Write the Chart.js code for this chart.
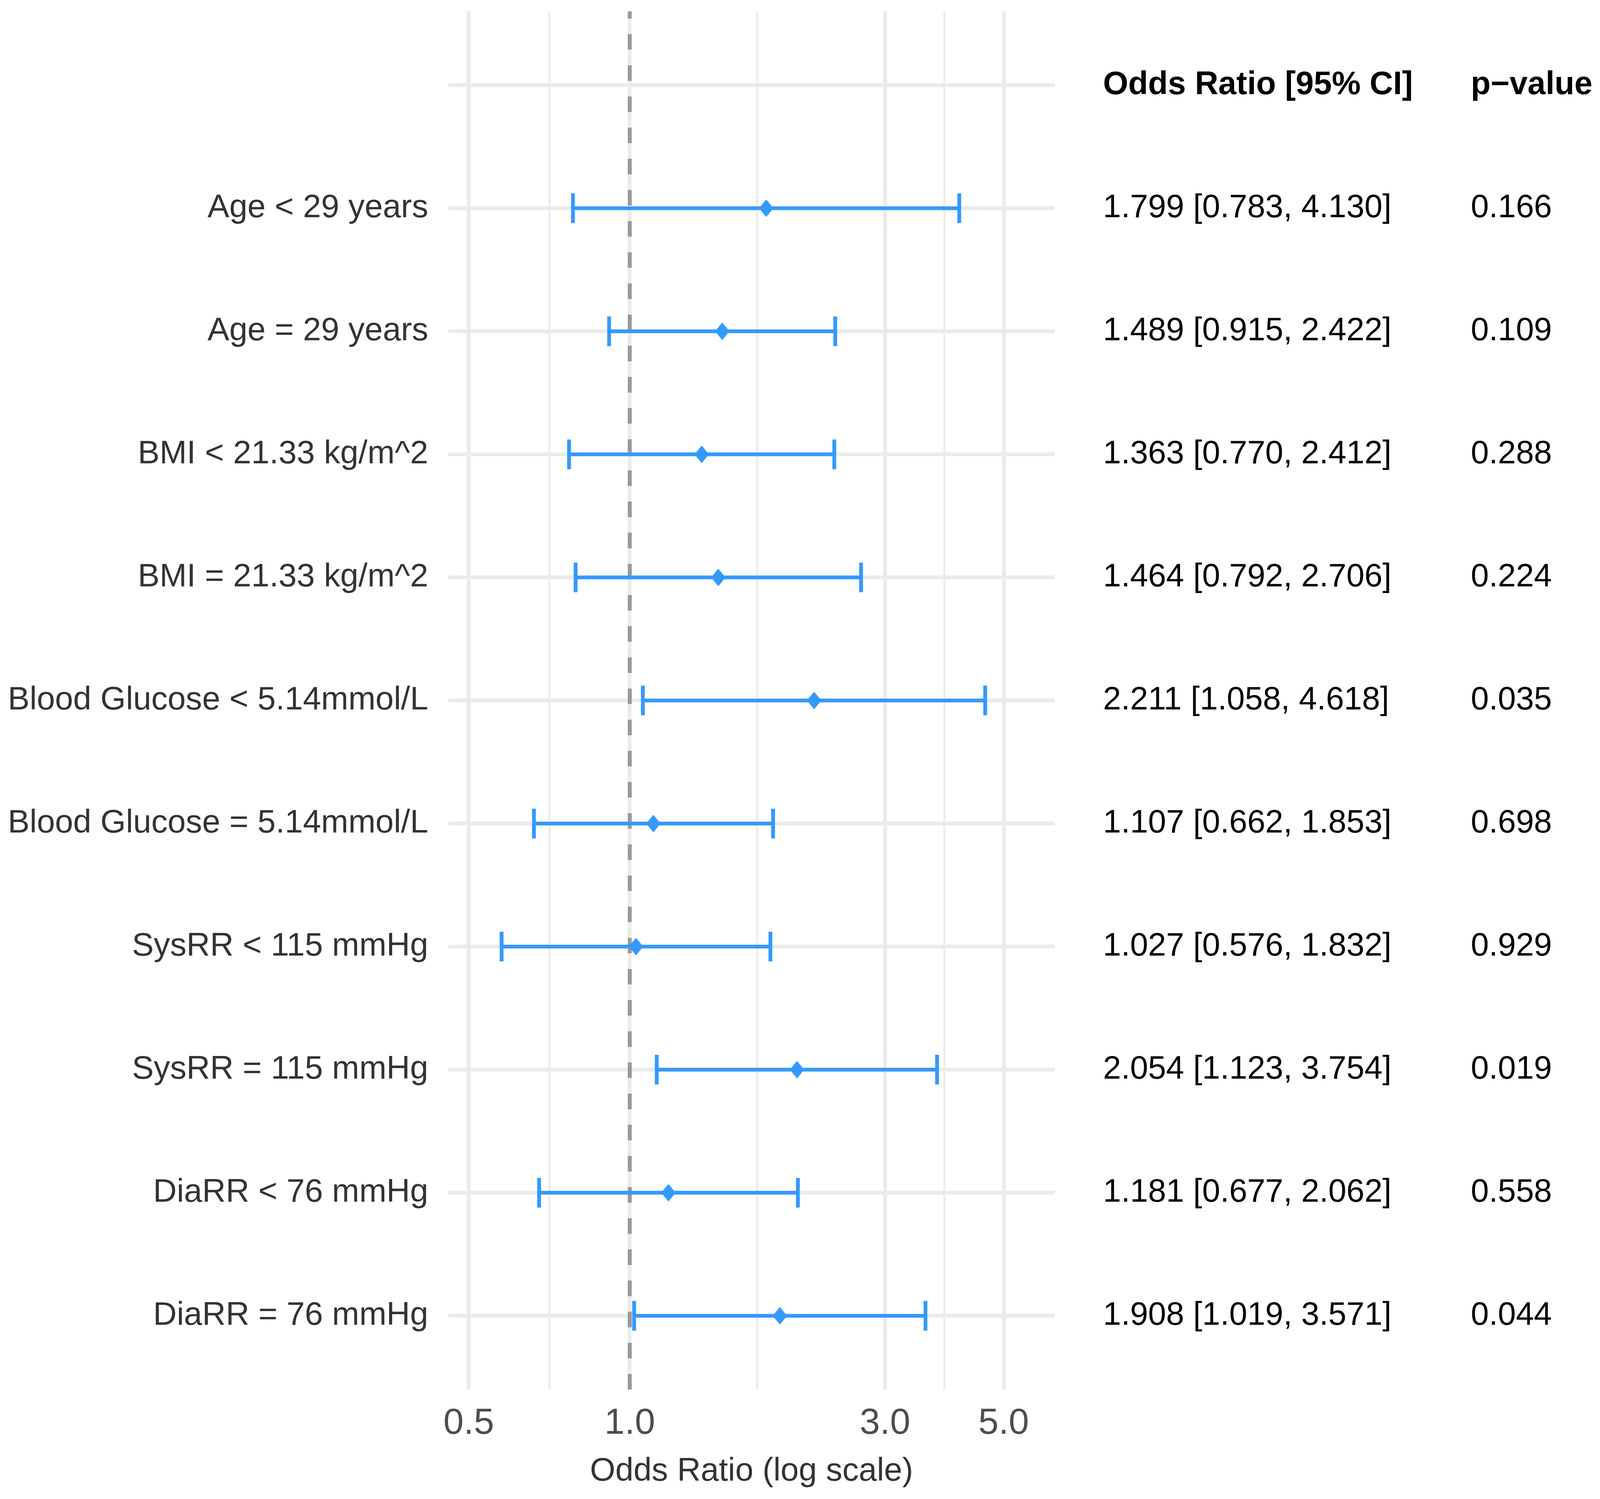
<!DOCTYPE html>
<html>
<head>
<meta charset="utf-8">
<title>Forest plot</title>
<script src="https://cdn.jsdelivr.net/npm/chart.js@4.4.1/dist/chart.umd.min.js"></script>
<style>
  html, body { margin: 0; padding: 0; background: #ffffff; overflow: hidden; }
  canvas { display: block; }
</style>
</head>
<body>
<canvas id="forest"></canvas>
<script>
// data (top to bottom)
const rowLabels = [
  'Age < 29 years',
  'Age = 29 years',
  'BMI < 21.33 kg/m^2',
  'BMI = 21.33 kg/m^2',
  'Blood Glucose < 5.14mmol/L',
  'Blood Glucose = 5.14mmol/L',
  'SysRR < 115 mmHg',
  'SysRR = 115 mmHg',
  'DiaRR < 76 mmHg',
  'DiaRR = 76 mmHg'
];
const oddsRatio = [1.799, 1.489, 1.363, 1.464, 2.211, 1.107, 1.027, 2.054, 1.181, 1.908];
const ciLower   = [0.783, 0.915, 0.770, 0.792, 1.058, 0.662, 0.576, 1.123, 0.677, 1.019];
const ciUpper   = [4.130, 2.422, 2.412, 2.706, 4.618, 1.853, 1.832, 3.754, 2.062, 3.571];
const pValues   = ['0.166', '0.109', '0.288', '0.224', '0.035', '0.698', '0.929', '0.019', '0.558', '0.044'];

const headerText = ['Odds Ratio [95% CI]', 'p\u2212value'];
const xBreaks = [0.5, 1, 3, 5];
const xTickLabels = ['0.5', '1.0', '3.0', '5.0'];
const xMinorBreaks = [0.707, 1.732, 3.873];
const refValue = 1;

const FONT = '"Liberation Sans", Arial, Helvetica, sans-serif';
const BLUE = '#3399FF';
const GRID = '#EBEBEB';

// the layout was measured on a 4211 x 3837 picture; scale to the real window
const W = window.innerWidth || 4211;
const H = window.innerHeight || 3837;
const sx = W / 4211, sy = H / 3837, s = Math.min(sx, sy);

const canvas = document.getElementById('forest');
canvas.width = W;
canvas.height = H;

// header row sits at 0, data rows at 1..10
const rowPos = [0].concat(rowLabels.map((_, i) => i + 1));
const yMin = -0.6, yMax = rowLabels.length + 0.6;

function makeDiamond(hw, hh, color) {
  const c = document.createElement('canvas');
  c.width = Math.round(hw * 2);
  c.height = Math.round(hh * 2);
  const g = c.getContext('2d');
  g.fillStyle = color;
  g.beginPath();
  g.moveTo(c.width / 2, 0);
  g.lineTo(c.width, c.height / 2);
  g.lineTo(c.width / 2, c.height);
  g.lineTo(0, c.height / 2);
  g.closePath();
  g.fill();
  return c;
}
const diamond = makeDiamond(19 * s, 23 * s, BLUE);

const datasets = [];

// point estimates
datasets.push({
  type: 'scatter',
  data: oddsRatio.map((v, i) => ({ x: v, y: i + 1 })),
  pointStyle: diamond,
  pointRadius: 24 * s,
  order: 0
});

// confidence intervals with end caps
rowLabels.forEach((_, i) => {
  datasets.push({
    type: 'line',
    data: [{ x: ciLower[i], y: i + 1 }, { x: ciUpper[i], y: i + 1 }],
    borderColor: BLUE,
    borderWidth: 10 * s,
    pointStyle: 'line',
    pointRotation: 90,
    pointRadius: 39 * s,
    pointBorderWidth: 10 * s,
    pointBorderColor: BLUE,
    order: 1
  });
});

// reference line at OR = 1 (drawn from the bottom up, like ggplot)
datasets.push({
  type: 'line',
  data: [{ x: refValue, y: yMax }, { x: refValue, y: yMin }],
  borderColor: '#999999',
  borderWidth: 10.5 * s,
  borderDash: [41 * s, 41 * s],
  pointRadius: 0,
  order: 2
});

const sideTable = {
  id: 'sideTable',
  afterDraw(chart) {
    const { ctx, chartArea, scales: { y } } = chart;
    const ciX = chartArea.right + 127 * sx;
    const pX = chartArea.right + 1095 * sx;
    const fs = Math.round(85 * s);
    ctx.save();
    ctx.fillStyle = '#000000';
    ctx.textAlign = 'left';
    ctx.textBaseline = 'middle';
    ctx.font = 'bold ' + fs + 'px ' + FONT;
    ctx.fillText(headerText[0], ciX, y.getPixelForValue(0));
    ctx.fillText(headerText[1], pX, y.getPixelForValue(0));
    ctx.font = fs + 'px ' + FONT;
    rowLabels.forEach((_, i) => {
      const py = y.getPixelForValue(i + 1);
      const txt = oddsRatio[i].toFixed(3) + ' [' + ciLower[i].toFixed(3) + ', ' + ciUpper[i].toFixed(3) + ']';
      ctx.fillText(txt, ciX, py);
      ctx.fillText(pValues[i], pX, py);
    });
    ctx.restore();
  }
};

new Chart(canvas, {
  type: 'scatter',
  data: { datasets: datasets },
  plugins: [sideTable],
  options: {
    responsive: false,
    devicePixelRatio: 1,
    animation: false,
    events: [],
    layout: {
      autoPadding: false,
      padding: { top: 29 * sy, right: 1435 * sx, bottom: 0, left: 0 }
    },
    plugins: {
      legend: { display: false },
      title: { display: false },
      tooltip: { enabled: false }
    },
    scales: {
      x: {
        type: 'logarithmic',
        min: 0.458,
        max: 6.23,
        afterBuildTicks: sc => {
          sc.ticks = xBreaks.concat(xMinorBreaks).sort((a, b) => a - b).map(v => ({ value: v }));
        },
        afterFit: sc => {
          sc.height = 280 * sy;
          sc.paddingLeft = 0;
          sc.paddingRight = 0;
        },
        grid: {
          color: GRID,
          lineWidth: c => ((c.tick && xMinorBreaks.includes(c.tick.value)) ? 5 : 10) * s,
          drawTicks: false
        },
        border: { display: false },
        ticks: {
          autoSkip: false,
          maxRotation: 0,
          padding: 31 * sy,
          color: '#4D4D4D',
          font: { family: FONT, size: 96 * s },
          callback: v => {
            const k = xBreaks.indexOf(v);
            return k >= 0 ? xTickLabels[k] : '';
          }
        },
        title: {
          display: true,
          text: 'Odds Ratio (log scale)',
          color: '#333333',
          font: { family: FONT, size: 86 * s },
          padding: { top: 0, bottom: 20 * sy }
        }
      },
      y: {
        type: 'linear',
        reverse: true,
        min: yMin,
        max: yMax,
        afterBuildTicks: sc => { sc.ticks = rowPos.map(v => ({ value: v })); },
        afterFit: sc => {
          sc.width = 1180 * sx;
          sc.paddingTop = 0;
          sc.paddingBottom = 0;
        },
        grid: { color: GRID, lineWidth: 10 * s, drawTicks: false },
        border: { display: false },
        ticks: {
          autoSkip: false,
          padding: 53 * sx,
          color: '#333333',
          font: { family: FONT, size: 86 * s },
          callback: v => (v === 0 ? '' : rowLabels[v - 1])
        }
      }
    }
  }
});
</script>
</body>
</html>
